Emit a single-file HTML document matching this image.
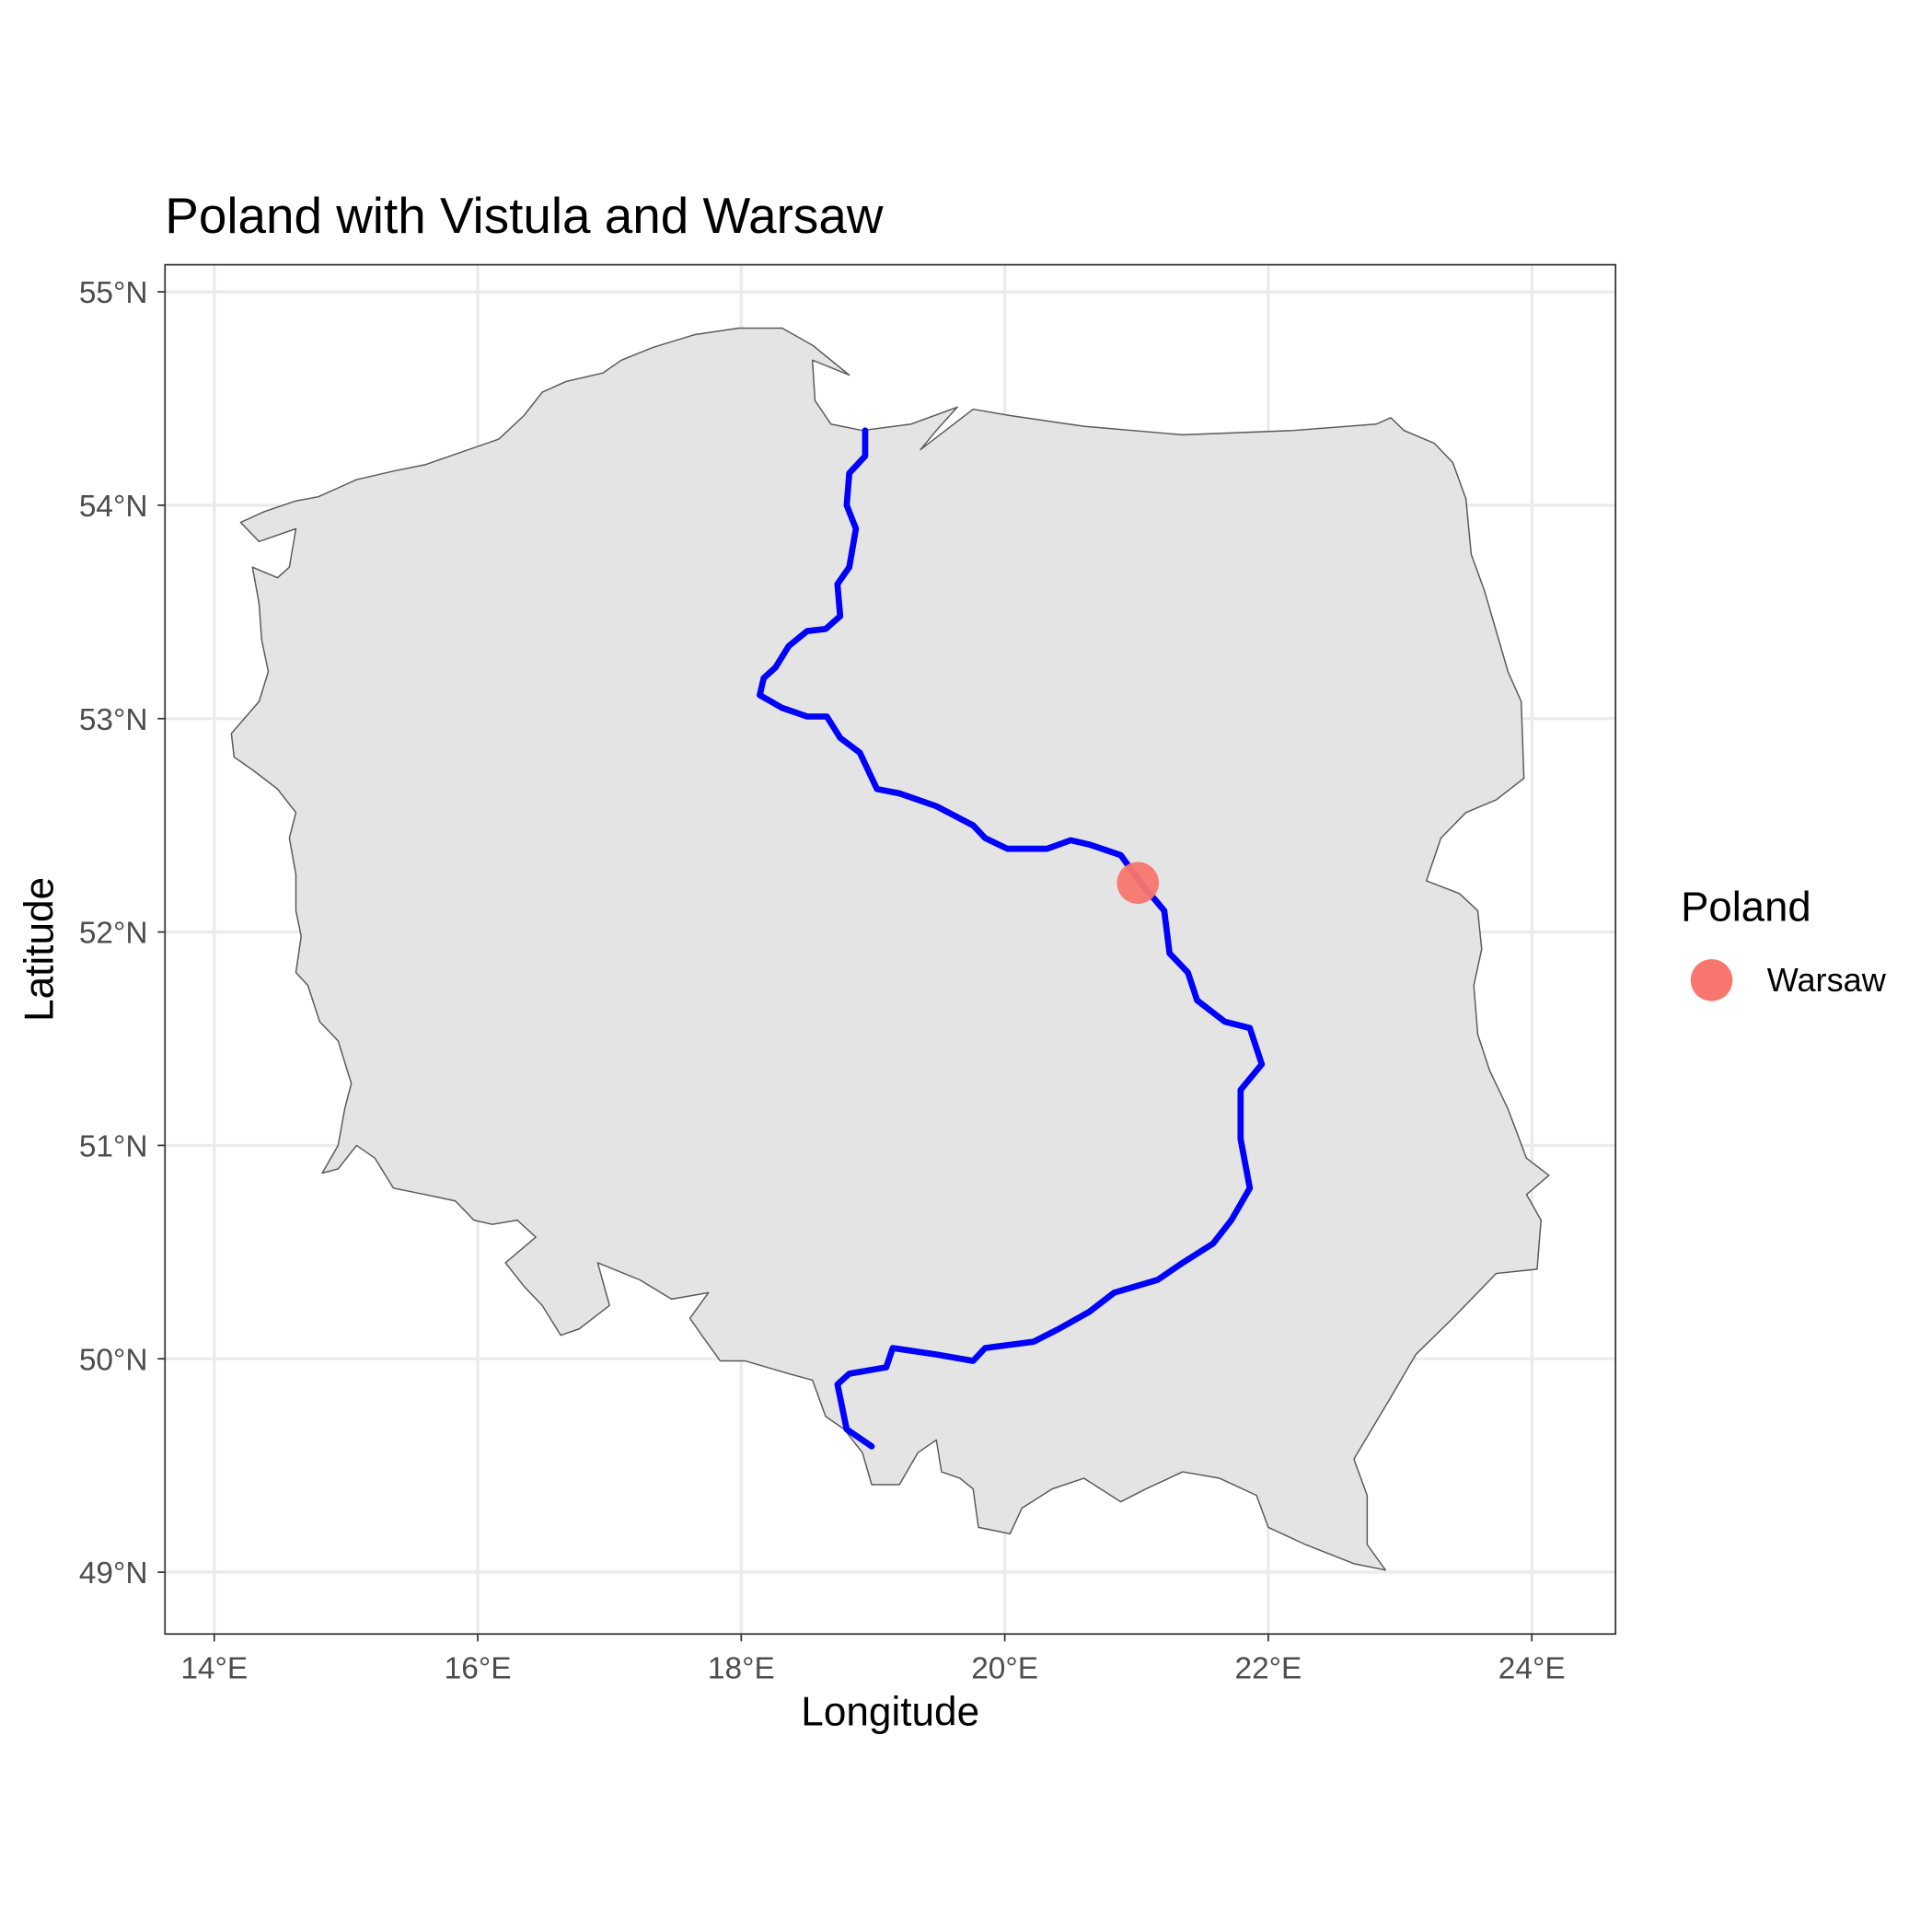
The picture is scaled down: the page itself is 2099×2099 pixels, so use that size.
<!DOCTYPE html>
<html><head><meta charset="utf-8">
<style>
html,body{margin:0;padding:0;background:#fff;}
svg{display:block;font-family:"Liberation Sans",Arial,sans-serif;}
</style></head>
<body>
<svg id="chart" width="2099" height="2099" viewBox="0 0 1569 1569" xmlns="http://www.w3.org/2000/svg">
<rect width="1569" height="1569" fill="#fff"/>
<text x="134" y="189" font-size="41" fill="#000">Poland with Vistula and Warsaw</text>
<g id="grid"></g>
<g id="map"></g>
<rect x="134" y="215" width="1178" height="1112" fill="none" stroke="#333" stroke-width="1.3"/>
<g id="axes"></g>
<text x="723" y="1401" font-size="33" text-anchor="middle" fill="#000">Longitude</text>
<text transform="translate(43,771) rotate(-90)" font-size="33" text-anchor="middle" fill="#000">Latitude</text>
<g>
<text x="1365" y="748" font-size="34" fill="#000">Poland</text>
<circle cx="1390" cy="796" r="17" fill="#F8766D"/>
<text x="1435" y="805" font-size="27" fill="#000">Warsaw</text>
</g>
</svg>
<script>
const lonTicks = [14,16,18,20,22,24];
const latTicks = [49,50,51,52,53,54,55];
const borderLon = [14.20,14.38,14.62,14.79,15.08,15.36,15.60,15.88,16.16,16.35,16.49,16.67,16.95,17.09,17.33,17.65,17.98,18.31,18.54,18.82,18.54,18.56,18.68,18.92,19.29,19.64,19.48,19.36,19.76,20.04,20.60,21.35,22.19,22.82,22.93,23.03,23.26,23.40,23.50,23.54,23.64,23.82,23.92,23.94,23.73,23.50,23.31,23.20,23.45,23.59,23.62,23.56,23.59,23.68,23.82,23.96,24.13,23.96,24.07,24.04,23.73,23.40,23.12,22.93,22.65,22.75,22.75,22.89,22.65,22.28,22.00,21.91,21.63,21.35,21.07,20.88,20.60,20.36,20.13,20.04,19.80,19.76,19.66,19.52,19.48,19.34,19.20,18.99,18.92,18.78,18.64,18.54,18.36,18.03,17.84,17.70,17.61,17.75,17.47,17.23,16.91,17.00,16.77,16.63,16.49,16.35,16.21,16.44,16.30,16.11,15.97,15.83,15.60,15.36,15.22,15.08,14.94,14.82,14.94,14.99,15.04,14.94,14.80,14.71,14.62,14.66,14.62,14.62,14.57,14.62,14.48,14.29,14.15,14.13,14.34,14.41,14.36,14.34,14.29,14.48,14.57,14.62,14.34];
const borderLat = [53.92,53.97,54.02,54.04,54.12,54.16,54.19,54.25,54.31,54.42,54.53,54.58,54.62,54.68,54.74,54.80,54.83,54.83,54.75,54.61,54.68,54.49,54.38,54.35,54.38,54.46,54.35,54.26,54.45,54.42,54.37,54.33,54.35,54.38,54.41,54.35,54.29,54.20,54.03,53.77,53.60,53.22,53.08,52.72,52.62,52.56,52.44,52.24,52.18,52.10,51.92,51.75,51.52,51.35,51.17,50.94,50.86,50.77,50.65,50.42,50.40,50.19,50.02,49.82,49.53,49.36,49.13,49.01,49.04,49.13,49.21,49.36,49.44,49.47,49.39,49.33,49.44,49.39,49.30,49.18,49.21,49.39,49.44,49.47,49.62,49.56,49.41,49.41,49.56,49.67,49.73,49.90,49.93,49.99,49.99,50.11,50.19,50.31,50.28,50.37,50.45,50.25,50.14,50.11,50.25,50.34,50.45,50.57,50.65,50.63,50.65,50.74,50.77,50.80,50.94,51.00,50.89,50.87,51.00,51.17,51.29,51.49,51.58,51.75,51.81,51.98,52.10,52.27,52.44,52.56,52.67,52.76,52.82,52.93,53.08,53.22,53.37,53.54,53.71,53.66,53.71,53.89,53.83];
const riverLon = [18.94,18.94,18.82,18.80,18.87,18.82,18.73,18.75,18.64,18.50,18.36,18.26,18.17,18.14,18.31,18.50,18.65,18.75,18.90,19.03,19.20,19.48,19.76,19.85,20.02,20.32,20.50,20.64,20.88,21.02,21.21,21.25,21.39,21.46,21.67,21.86,21.95,21.79,21.79,21.86,21.72,21.58,21.35,21.16,20.83,20.64,20.41,20.22,19.85,19.76,19.48,19.15,19.10,18.82,18.73,18.80,18.99];
const riverLat = [54.35,54.23,54.15,54.00,53.89,53.71,53.63,53.48,53.42,53.41,53.34,53.24,53.19,53.11,53.05,53.01,53.01,52.91,52.84,52.67,52.65,52.59,52.50,52.44,52.39,52.39,52.43,52.41,52.36,52.24,52.10,51.90,51.81,51.68,51.58,51.55,51.38,51.26,51.03,50.80,50.65,50.54,50.45,50.37,50.31,50.22,50.14,50.08,50.05,49.99,50.02,50.05,49.96,49.93,49.88,49.67,49.59];
const cityLon = [21.01];
const cityLat = [52.23];

const NS = "http://www.w3.org/2000/svg";
function xs(lon){ return 174 + (lon - 14) * 107; }
function ys(lat){ return 237 + (55 - lat) * 173.3; }
function mk(tag, attrs, parent){
  const e = document.createElementNS(NS, tag);
  for (const k in attrs) e.setAttribute(k, attrs[k]);
  parent.appendChild(e);
  return e;
}
const grid = document.getElementById('grid');
const axes = document.getElementById('axes');
const map = document.getElementById('map');

lonTicks.forEach(v => {
  const x = xs(v);
  const g = mk('line', {x1:x, x2:x, y1:215, y2:1327, stroke:'#ebebeb', 'stroke-width':2.5}, grid);
  
  
  const t = mk('line', {x1:x, x2:x, y1:1327, y2:1333, stroke:'#333', 'stroke-width':1.3}, axes);
  
  
  const l = mk('text', {x:x, y:1363, 'font-size':25, 'text-anchor':'middle', fill:'#4d4d4d'}, axes);
  l.textContent = v + '°E';
  
  
});
latTicks.forEach(v => {
  const y = ys(v);
  const g = mk('line', {x1:134, x2:1312, y1:y, y2:y, stroke:'#ebebeb', 'stroke-width':2.5}, grid);
  
  
  const t = mk('line', {x1:128, x2:134, y1:y, y2:y, stroke:'#333', 'stroke-width':1.3}, axes);
  
  
  const l = mk('text', {x:120, y:y+9, 'font-size':25, 'text-anchor':'end', fill:'#4d4d4d'}, axes);
  l.textContent = v + '°N';
  
  
});

const bpts = borderLon.map((v,i) => xs(v).toFixed(1) + ',' + ys(borderLat[i]).toFixed(1)).join(' ');
const poly = mk('polygon', {points:bpts, fill:'#e4e4e4', stroke:'#595959', 'stroke-width':1.1, 'stroke-linejoin':'round'}, map);



const rpts = riverLon.map((v,i) => xs(v).toFixed(1) + ',' + ys(riverLat[i]).toFixed(1)).join(' ');
const river = mk('polyline', {points:rpts, fill:'none', stroke:'#0000ff', 'stroke-width':5, 'stroke-linejoin':'round', 'stroke-linecap':'round'}, map);



cityLon.forEach((v,i) => {
  const c = mk('circle', {cx:xs(v), cy:ys(cityLat[i]), r:17, fill:'#F8766D', 'fill-opacity':0.95}, map);
  
  
});
</script>
</body></html>
